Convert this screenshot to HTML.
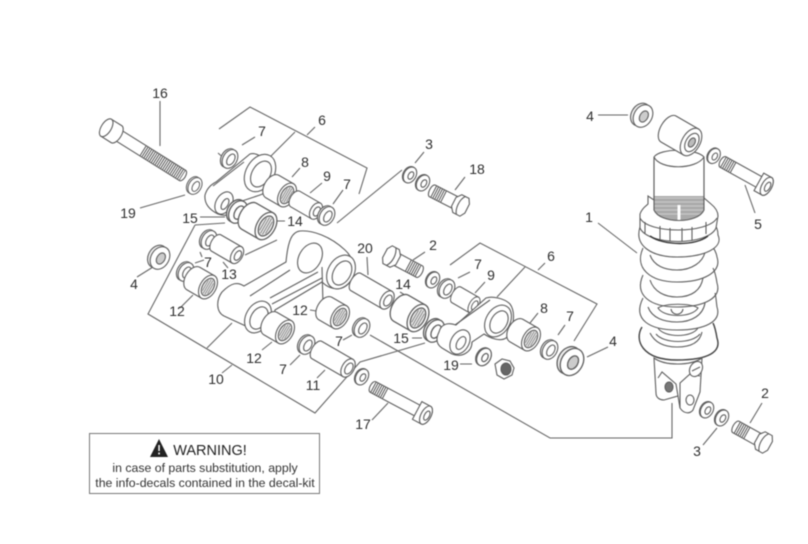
<!DOCTYPE html>
<html><head><meta charset="utf-8"><style>
html,body{margin:0;padding:0;background:#fff}
svg{display:block;filter:blur(.4px)}
text{font-family:"Liberation Sans",sans-serif;font-size:14px;fill:#2e2e2e;text-anchor:middle}
.l{fill:none;stroke:#666;stroke-width:1.1}
.s{stroke:#5e5e5e;stroke-width:1.1}
.n{fill:none}
</style></head><body>
<svg width="808" height="544" viewBox="0 0 808 544" xmlns="http://www.w3.org/2000/svg">
<defs>
<g id="washer" fill="#fff"><ellipse cx="-2" cy="0" rx="7" ry="10" fill="#eee"/><ellipse cx="0" cy="0" rx="7" ry="10"/><ellipse cx="1" cy="0" rx="3.500" ry="6"/></g>
<g id="wsm" fill="#fff"><ellipse cx="-1" cy="0" rx="6" ry="8.500" fill="#eee"/><ellipse cx="0" cy="0" rx="6" ry="8.500"/><ellipse cx="1" cy="0" rx="2.500" ry="4"/></g>
<g id="bearing"><path d="M0-13L-17-13A8 13 0 0 0-17 13L0 13Z" fill="#fff"/><ellipse rx="8" ry="13" fill="#fff"/><ellipse rx="5.500" ry="9.500" fill="#e6e6e6"/><path d="M-3-6V6M-1-8V8M1-8V8M3-6V6" fill="none" stroke="#777" stroke-width=".7"/></g>
<g id="pin"><path d="M0-9L-24-9A5 9 0 0 0-24 9L0 9Z" fill="#fff"/><ellipse rx="5.500" ry="9" fill="#fff"/><ellipse cx="1" rx="3" ry="5" fill="#fff"/></g>
<g id="pinL"><path d="M0-10L-36-10A5 10 0 0 0-36 10L0 10Z" fill="#fff"/><ellipse rx="6" ry="10" fill="#fff"/><ellipse cx="1" rx="3.500" ry="6" fill="#fff"/></g>
<g id="hex"><path d="M0-6.500L31-6.500A3 6.500 0 0 1 31 6.500L0 6.500Z" fill="#fff"/><path d="M18 0H31" stroke="#555" stroke-width="12" stroke-dasharray="1 1.2" fill="none"/><polygon points="-5,-10 3,-10 7,-5 7,5 3,10 -5,10 -8,5 -8,-5" fill="#fff"/><path d="M-1-10C3-5 3 5-1 10" fill="none"/></g>
<g id="nut"><ellipse cx="-3" rx="9" ry="12" fill="#eee"/><ellipse rx="9" ry="12" fill="#fff"/><ellipse cx="1" rx="4" ry="6" fill="#ccc"/></g>
</defs>

<g class="l">
<path d="M160 101V146"/>
<path d="M219 129L250 107L367 168L359 194"/>
<path d="M295 132L267 160M307 135L315 127"/>
<path d="M402 170L337 223"/>
<path d="M242 145L255 137M218 153L226 160"/>
<path d="M292 177L300 168M310 193L322 183M333 204L343 190"/>
<path d="M140 208L185 195"/>
<path d="M200 217H225M277 221H285"/>
<path d="M195 225L225 223M195 225L148 314L315 413L360 362L425 343"/>
<path d="M207 348L232 323M222 373L232 365"/>
<path d="M137 277L153 267"/>
<path d="M245 255L277 240"/>
<path d="M200 252L202 257M195 263L204 260M223 262L228 268M180 308L193 295"/>
<path d="M370 335L550 438H672V403"/>
<path d="M450 265L480 243L597 304L574 341"/>
<path d="M525 267L497 297M538 270L545 263"/>
<path d="M367 257L368 275M400 292L408 297"/>
<path d="M415 163L424 152M455 190L465 177M413 260L425 252"/>
<path d="M458 278L470 272M475 293L485 282M530 323L538 313M558 335L565 325"/>
<path d="M412 338H422M460 364H472"/>
<path d="M587 357L608 347"/>
<path d="M310 310L323 312M262 350L272 342M290 365L300 355M343 340L352 335M317 378L325 370"/>
<path d="M372 420L388 403"/>
<path d="M598 223L637 253M598 115H628M745 185L755 213M762 403L750 423M717 428L703 445"/>
</g>

<g class="s">
<!-- bolt 16 -->
<g transform="translate(113 132) rotate(32)">
<path d="M0-6H82A3 6 0 0 1 82 6H0Z" fill="#fff"/>
<path d="M35 0H82" stroke="#555" stroke-width="11" stroke-dasharray="1 1.2" fill="none"/>
<path d="M-8-10H4A5 10 0 0 1 4 10H-8Z" fill="#fff"/><ellipse cx="-8" rx="5" ry="10" fill="#fff"/>
</g>
<use href="#washer" transform="translate(195 186) rotate(30) scale(.9)"/>
<use href="#washer" transform="translate(230 159) rotate(30)"/>

<!-- upper link 6 -->
<path d="M205 195C207 188 212 184 216 182L250 154C256 152 266 158 272 168C276 180 270 192 260 195L242 201C240 212 228 218 218 214C210 210 204 204 205 195Z" fill="#fff"/>
<ellipse cx="260" cy="173" rx="14" ry="20" transform="rotate(30 260 173)" fill="#fff"/>
<ellipse cx="261" cy="174" rx="9" ry="14" transform="rotate(30 261 174)" fill="#fff"/>
<ellipse cx="224" cy="203" rx="8" ry="12" transform="rotate(30 224 203)" fill="#fff"/>
<ellipse cx="225" cy="204" rx="3" ry="6" transform="rotate(30 225 204)" fill="#fff"/>
<path d="M213 186L244 162" fill="none"/>

<use href="#bearing" transform="translate(287 195) rotate(30)"/>
<use href="#pin" transform="translate(316 211) rotate(30)"/>
<use href="#washer" transform="translate(327 216) rotate(30)"/>
<use href="#washer" transform="translate(238 212) rotate(30) scale(1.2)"/>
<use href="#bearing" transform="translate(266 226) rotate(30) scale(1.15)"/>
<use href="#washer" transform="translate(209 240) rotate(30)"/>
<use href="#pin" transform="translate(237 255) rotate(30) scale(1 1.05)"/>
<use href="#nut" transform="translate(160 258) rotate(30)"/>
<use href="#washer" transform="translate(186 272) rotate(30)"/>
<use href="#bearing" transform="translate(208 287) rotate(30)"/>

<!-- arm 10 -->
<path d="M222 292C232 282 238 282 244 286L286 262C288 240 292 232 300 231C312 230 330 236 345 250C354 258 356 272 350 282C342 292 330 290 322 282L275 310C274 324 262 332 250 328L224 316C216 312 216 300 222 292Z" fill="#fff"/>
<ellipse cx="258" cy="317" rx="12" ry="17" transform="rotate(30 258 317)" fill="#fff"/>
<ellipse cx="259" cy="318" rx="8" ry="12" transform="rotate(30 259 318)" fill="#fff"/>
<ellipse cx="310" cy="258" rx="11" ry="16" transform="rotate(30 310 258)" fill="#fff"/>
<ellipse cx="341" cy="272" rx="13" ry="18" transform="rotate(30 341 272)" fill="#fff"/>
<ellipse cx="342" cy="273" rx="8.500" ry="13" transform="rotate(30 342 273)" fill="#fff"/>
<path d="M272 304L322 278M270 298L318 272M250 296L290 270M322 267L323 305L333 309" fill="none"/>

<use href="#bearing" transform="translate(285 332) rotate(30)"/>
<use href="#washer" transform="translate(307 345) rotate(30)"/>
<use href="#pinL" transform="translate(348 368) rotate(30)"/>
<use href="#bearing" transform="translate(340 317) rotate(30)"/>
<use href="#washer" transform="translate(362 328) rotate(30)"/>
<use href="#wsm" transform="translate(362 377) rotate(30)"/>
<!-- bolt 17 -->
<g transform="translate(373 387) rotate(28)">
<path d="M0-6H58V6H0A3 6 0 0 1 0-6Z" fill="#fff"/>
<path d="M0 0H15" stroke="#555" stroke-width="11" stroke-dasharray="1 1.2" fill="none"/>
<path d="M50-10H60A5 10 0 0 1 60 10H50Z" fill="#fff"/><ellipse cx="60" rx="5" ry="10" fill="#fff"/><ellipse cx="61" rx="2.500" ry="5" fill="#fff"/>
</g>
<use href="#pinL" transform="translate(387 300) rotate(30)"/>
<use href="#bearing" transform="translate(418 318) rotate(30) scale(1.15)"/>
<use href="#wsm" transform="translate(410 175) rotate(30)"/>
<use href="#wsm" transform="translate(423 183) rotate(30)"/>
<use href="#hex" transform="translate(460 205) rotate(207)"/>
<use href="#hex" transform="translate(392 257) rotate(28)"/>
<use href="#wsm" transform="translate(433 280) rotate(30)"/>
<use href="#washer" transform="translate(447 289) rotate(30)"/>
<use href="#pin" transform="translate(474 305) rotate(30) scale(.85 1)"/>
<use href="#washer" transform="translate(435 331) rotate(30) scale(1.2)"/>

<!-- lower link 6 -->
<path d="M439 332C441 324 448 322 456 325L486 298C492 296 504 298 510 304C516 312 514 330 506 338C500 342 490 338 484 334L472 342C472 352 462 358 452 354L442 348C436 344 436 338 439 332Z" fill="#fff"/>
<ellipse cx="498" cy="321" rx="12" ry="17" transform="rotate(30 498 321)" fill="#fff"/>
<ellipse cx="499" cy="322" rx="8" ry="12" transform="rotate(30 499 322)" fill="#fff"/>
<ellipse cx="460" cy="342" rx="9" ry="13" transform="rotate(30 460 342)" fill="#fff"/>
<ellipse cx="461" cy="343" rx="4" ry="7" transform="rotate(30 461 343)" fill="#fff"/>
<path d="M455 325L490 300" fill="none"/>

<use href="#wsm" transform="translate(484 357) rotate(30) scale(1.1)"/>
<polygon points="495,364 502,359 510,361 514,368 512,375 504,379 497,375" fill="#fff"/><ellipse cx="506" cy="369" rx="5" ry="6" fill="#666"/>
<use href="#bearing" transform="translate(531 339) rotate(30)"/>
<use href="#washer" transform="translate(550 350) rotate(30)"/>
<use href="#nut" transform="translate(572 362) rotate(30) scale(1.2)"/>

<!-- shock absorber: top -->
<path d="M654 157C660 148 696 148 704 157V208H654Z" fill="#fff"/>
<path d="M654 157C660 170 696 170 704 157" fill="none"/>
<use href="#nut" transform="translate(643 116) rotate(30)"/>
<g transform="translate(691 142) rotate(30)"><path d="M0-15L-26-15A8 15 0 0 0-26 15L0 15Z" fill="#fff"/><ellipse rx="9" ry="15" fill="#fff"/><ellipse cx="1" rx="6" ry="10" fill="#fff"/><ellipse cx="1" rx="3" ry="5" fill="#bbb"/></g>
<use href="#wsm" transform="translate(714 156) rotate(30) scale(.95)"/>
<g transform="translate(723 162) rotate(29)">
<path d="M0-6H45V6H0A3 6 0 0 1 0-6Z" fill="#fff"/>
<path d="M0 0H12" stroke="#555" stroke-width="11" stroke-dasharray="1 1.2" fill="none"/>
<path d="M41-10H50A5 10 0 0 1 50 10H41Z" fill="#fff"/><ellipse cx="50" rx="5" ry="10" fill="#fff"/><ellipse cx="51" rx="2.500" ry="5" fill="#fff"/>
</g>

<!-- spring coils -->
<g class="n">
<path d="M643 248C634 268 650 282 677 282C704 282 722 272 717 257C716 250 712 246 710 243"/>
<path d="M650 255C654 266 665 270 677 270C692 270 703 262 705 252"/>
<path d="M643 275C634 295 650 307 677 307C704 307 722 298 717 283C716 276 715 272 713 268"/>
<path d="M650 280C654 292 665 297 677 297C692 297 701 290 703 278"/>
<path d="M643 298C632 320 650 330 677 330C704 330 722 322 717 307C716 300 716 296 715 293"/>
<path d="M648 307C652 318 664 322 677 322C692 322 703 315 705 303"/>
<path d="M658 308C664 318 692 318 698 308C690 303 666 303 658 308Z"/>
<path d="M671 309C672 316 682 316 683 309"/>
<path d="M650 333C655 343 665 347 677 347C692 347 700 342 702 332"/>
<path d="M658 328C664 338 692 338 698 328M656 334C664 344 692 344 700 334"/>
<path d="M642 327C634 340 642 360 677 360C708 360 722 352 717 338C716 332 715 327 713 323" style="stroke-width:1.4;stroke:#444"/>
</g>
<path d="M640 227C634 246 652 257 677 257C704 257 724 248 718 235C718 230 716 226 714 224C700 238 655 238 640 227Z" fill="#fff"/>

<!-- top ring -->
<path d="M654 196V218C662 226 696 226 704 218V196" fill="#aaa"/>
<path d="M654 198H704M654 202H704M654 206H704M654 210H704M654 214H704" stroke="#ccc" stroke-width="1" fill="none"/>
<path d="M679 205V226" style="stroke:#fff;stroke-width:3" fill="none"/>
<path d="M654 160V200M704 160V200" fill="none"/>
<path d="M640 214C642 208 646 206 648 204V196L654 200V210C660 224 698 224 704 210V198L711 204C716 208 718 212 718 216L716 228C708 246 648 246 640 228Z" fill="#fff"/>
<path d="M640 218C648 234 708 234 717 218M645 222V234M660 226V240M670 228V241M682 228V241M692 227V240M706 222V234" fill="none"/>
<path d="M650 236C664 246 696 246 708 236" fill="none" style="stroke:#333;stroke-width:1.4"/>

<!-- clevis -->
<path d="M654 358L656 393C656 398 660 400 664 400L678 396L680 408C684 414 690 414 693 410L700 392L702 358C690 366 665 366 654 358Z" fill="#fff"/>
<path d="M658 378L662 372L676 384L678 396M680 408V383L690 374L700 376" fill="none"/>
<ellipse cx="669" cy="387" rx="4" ry="5" fill="#777"/>
<ellipse cx="690" cy="400" rx="4" ry="5" fill="#fff"/>
<ellipse cx="696" cy="369" rx="6" ry="8" transform="rotate(30 696 369)" fill="#fff"/>
<path d="M692 371L700 367" fill="none"/>
<use href="#wsm" transform="translate(707 410) rotate(30)"/>
<use href="#wsm" transform="translate(722 418) rotate(30)"/>
<use href="#hex" transform="translate(763 442) rotate(209)"/>
</g>

<!-- labels -->
<text x="160" y="98">16</text><text x="322" y="125">6</text><text x="262" y="136">7</text><text x="305" y="167">8</text><text x="327" y="181">9</text><text x="347" y="189">7</text><text x="429" y="149">3</text><text x="477" y="174">18</text><text x="128" y="218">19</text><text x="190" y="223">15</text><text x="295" y="226">14</text><text x="208" y="267">7</text><text x="229" y="279">13</text><text x="134" y="289">4</text><text x="177" y="316">12</text><text x="365" y="253">20</text><text x="433" y="250">2</text><text x="478" y="269">7</text><text x="491" y="280">9</text><text x="551" y="261">6</text><text x="403" y="289">14</text><text x="544" y="313">8</text><text x="570" y="321">7</text><text x="401" y="343">15</text><text x="451" y="370">19</text><text x="613" y="346">4</text><text x="300" y="315">12</text><text x="254" y="363">12</text><text x="339" y="346">7</text><text x="283" y="374">7</text><text x="313" y="390">11</text><text x="216" y="384">10</text><text x="363" y="429">17</text><text x="589" y="222">1</text><text x="590" y="121">4</text><text x="758" y="229">5</text><text x="765" y="398">2</text><text x="697" y="456">3</text>

<!-- warning -->
<rect x="89.500" y="433.500" width="230" height="60" fill="#fff" stroke="#777" stroke-width="1"/>
<polygon points="159,439 168,457 150,457" fill="#222"/>
<rect x="158.300" y="445" width="1.500" height="6" fill="#fff"/><rect x="158.300" y="452.500" width="1.500" height="2" fill="#fff"/>
<text x="210" y="455" style="font-size:14.500px;fill:#222">WARNING!</text>
<text x="205" y="472" style="font-size:12.300px;fill:#333">in case of parts substitution, apply</text>
<text x="205" y="487" style="font-size:12.300px;fill:#333">the info-decals contained in the decal-kit</text>
</svg>
</body></html>
